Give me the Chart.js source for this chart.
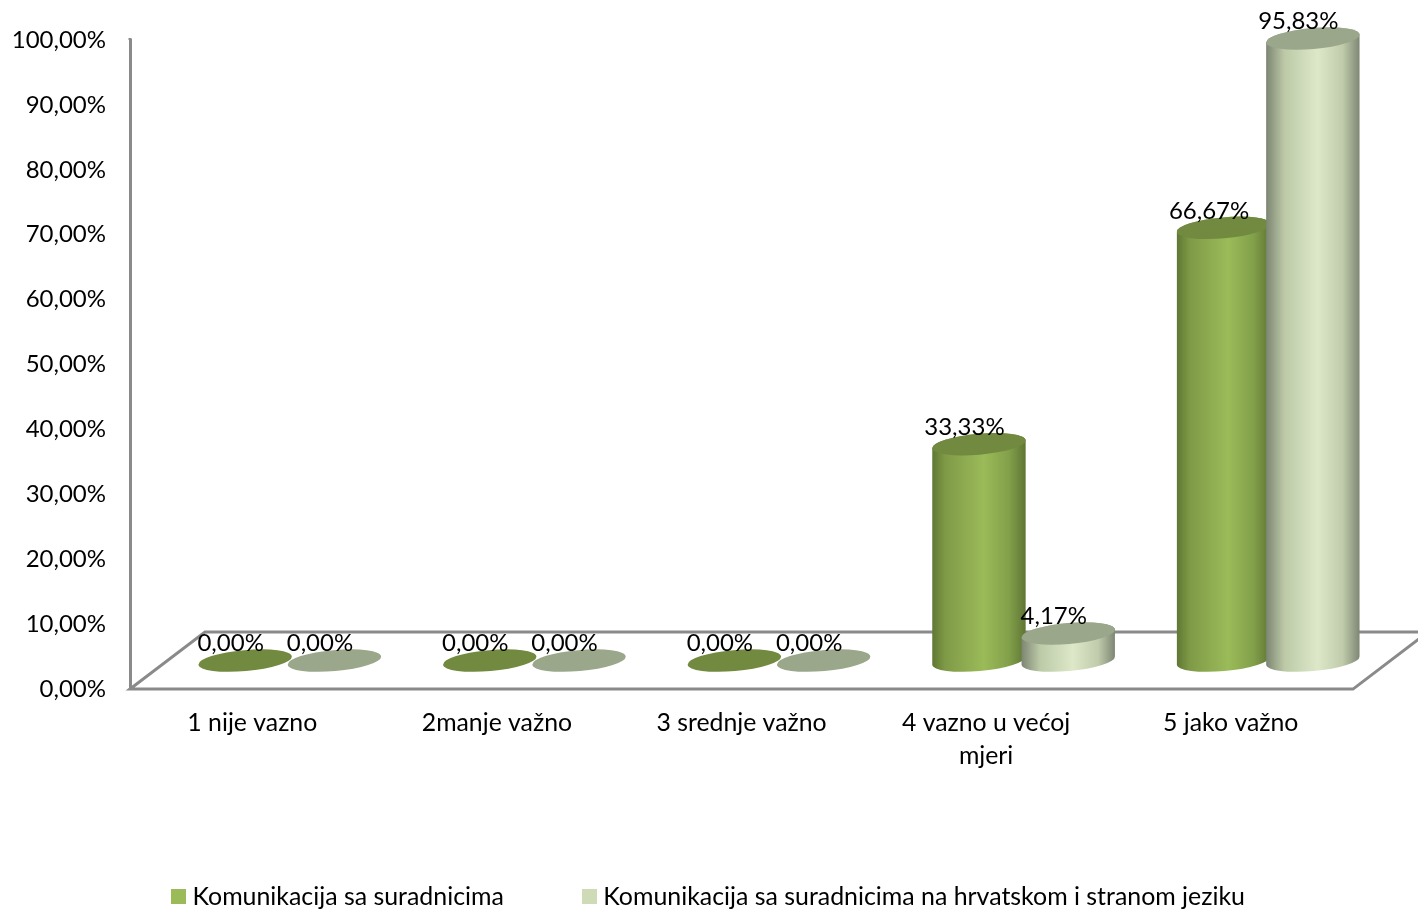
<!DOCTYPE html>
<html>
<head>
<meta charset="utf-8">
<title>Komunikacija sa suradnicima</title>
<script src="https://cdn.jsdelivr.net/npm/chart.js@4"></script>
<style>
    html, body { margin: 0; padding: 0; background: #fff; }
    canvas { display: block; }
</style>
</head>
<body>
<canvas id="surveyCanvas" width="1418" height="911"></canvas>
<script>
const categories = ['1 nije vazno', '2manje važno', '3 srednje važno', ['4 vazno u većoj', 'mjeri'], '5 jako važno']
const seriesNames = ['Komunikacija sa suradnicima', 'Komunikacija sa suradnicima na hrvatskom i stranom jeziku']
const colleagues = [0, 0, 0, 33.33, 66.67]
const colleaguesForeign = [0, 0, 0, 4.17, 95.83]
const yTickLabels = ['0,00%', '10,00%', '20,00%', '30,00%', '40,00%', '50,00%', '60,00%', '70,00%', '80,00%', '90,00%', '100,00%']

const fontName = 'Lato, "Open Sans", sans-serif'
const axisColor = '#8a8a8a'
const seriesColors = ['#9bbb59', '#cedbb6']
const depthX = 75
const depthY = 57
const tilt = -5 * Math.PI / 180
const capHeight = 10.5

const looks = [
    {
        top: '#728a3f',
        stops: [[0, '#5f7733'], [0.14, '#7f9a47'], [0.55, '#9bbb59'], [0.82, '#82a04a'], [1, '#5f7534']]
    },
    {
        top: '#9aa78a',
        stops: [[0, '#7c8572'], [0.2, '#bdcaa8'], [0.55, '#dce8c8'], [0.82, '#bfcbaa'], [1, '#7d8674']]
    }
]

// legend swatch: the text gap in the reference is tighter than a normal legend box allows
function makeSwatch(color) {
    const swatch = document.createElement('canvas')
    swatch.width = 15
    swatch.height = 15
    const c = swatch.getContext('2d')
    c.fillStyle = color
    c.fillRect(0, 0, 15, 15)
    return swatch
}
const swatches = seriesColors.map(makeSwatch)

// the floor of the 3d box, behind the bars
function drawFloor(chart) {
    const ctx = chart.ctx
    const area = chart.chartArea
    ctx.save()
    ctx.strokeStyle = axisColor
    ctx.lineWidth = 3
    ctx.beginPath()
    ctx.moveTo(area.left, area.bottom)
    ctx.lineTo(area.right, area.bottom)
    ctx.lineTo(area.right + depthX, area.bottom - depthY)
    ctx.lineTo(area.left + depthX, area.bottom - depthY)
    ctx.closePath()
    // axis runs a little past the 100% tick
    ctx.moveTo(area.left, area.top)
    ctx.lineTo(area.left, area.top - 2)
    ctx.stroke()
    ctx.restore()
}

function drawCylinder(ctx, bar, look) {
    const rx = bar.width / 2
    const cx = bar.x + depthX / 2
    const topY = bar.y - depthY / 2
    const baseY = bar.base - depthY / 2

    if (baseY - topY > 0.5) {
        const grad = ctx.createLinearGradient(cx - rx, 0, cx + rx, 0)
        look.stops.forEach(s => grad.addColorStop(s[0], s[1]))
        ctx.fillStyle = grad
        ctx.beginPath()
        ctx.ellipse(cx, baseY, rx, capHeight, tilt, 0, Math.PI)
        ctx.ellipse(cx, topY, rx, capHeight, tilt, Math.PI, 2 * Math.PI)
        ctx.closePath()
        ctx.fill()
    }

    ctx.fillStyle = look.top
    ctx.beginPath()
    ctx.ellipse(cx, topY, rx, capHeight, tilt, 0, 2 * Math.PI)
    ctx.fill()
}

const cylinders = {
    id: 'cylinders',
    beforeDatasetsDraw(chart) {
        const ctx = chart.ctx
        drawFloor(chart)
        ctx.save()
        chart.data.datasets.forEach((ds, i) => {
            chart.getDatasetMeta(i).data.forEach(bar => drawCylinder(ctx, bar, looks[i]))
        })
        ctx.fillStyle = '#000'
        ctx.font = '24px ' + fontName
        ctx.textAlign = 'center'
        ctx.textBaseline = 'middle'
        chart.data.datasets.forEach((ds, i) => {
            chart.getDatasetMeta(i).data.forEach((bar, j) => {
                const text = ds.data[j].toFixed(2).replace('.', ',') + '%'
                ctx.fillText(text, bar.x + depthX / 2 - 14.5, bar.y - depthY / 2 - 17)
            })
        })
        ctx.restore()
        return false
    }
}

new Chart(document.querySelector('#surveyCanvas'), {
    type: 'bar',
    data: {
        labels: categories,
        datasets: [
            { label: seriesNames[0], data: colleagues, backgroundColor: seriesColors[0], borderWidth: 0 },
            { label: seriesNames[1], data: colleaguesForeign, backgroundColor: seriesColors[1], borderWidth: 0 }
        ]
    },
    options: {
        responsive: false,
        animation: false,
        categoryPercentage: 0.73,
        barPercentage: 1.05,
        layout: {
            padding: { top: 40, right: -4, bottom: -8, left: 0 }
        },
        plugins: {
            tooltip: { enabled: false },
            legend: {
                position: 'bottom',
                labels: {
                    color: '#000',
                    font: { family: fontName, size: 24.9 },
                    usePointStyle: true,
                    pointStyleWidth: 3,
                    boxHeight: 15,
                    padding: 84,
                    generateLabels(chart) {
                        const items = Chart.defaults.plugins.legend.labels.generateLabels(chart)
                        items.forEach((item, i) => { item.pointStyle = swatches[i] })
                        return items
                    }
                }
            }
        },
        scales: {
            x: {
                grid: { display: false, drawTicks: false },
                border: { display: false },
                afterFit(scale) { scale.height = 111 },
                ticks: {
                    color: '#000',
                    padding: 17,
                    maxRotation: 0,
                    autoSkip: false,
                    font: { family: fontName, size: 24.8, lineHeight: 1.33 }
                }
            },
            y: {
                min: 0,
                max: 100,
                grid: { display: false, drawTicks: false },
                border: { color: axisColor, width: 3 },
                afterFit(scale) { scale.width = 130 },
                ticks: {
                    stepSize: 10,
                    color: '#000',
                    padding: 24,
                    font: { family: fontName, size: 24 },
                    callback: (value, i) => yTickLabels[i]
                }
            },
            // empty axis, only keeps the plot short of the legend's full width
            spacer: {
                position: 'right',
                grid: { display: false, drawTicks: false },
                border: { display: false },
                ticks: { display: false },
                afterFit(scale) { scale.width = 69 }
            }
        }
    },
    plugins: [cylinders]
})
</script>
</body>
</html>
